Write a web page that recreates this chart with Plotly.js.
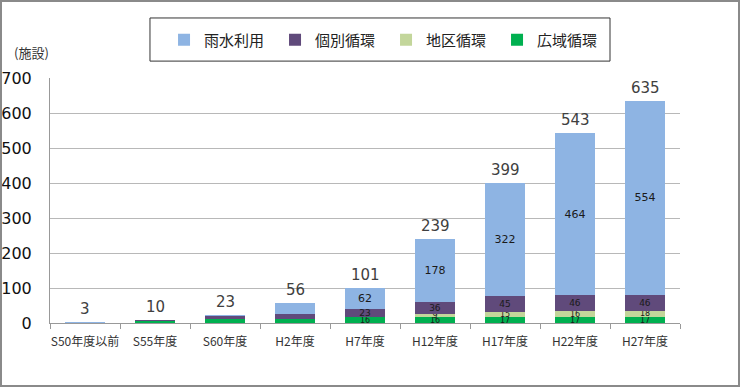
<!DOCTYPE html>
<html><head><meta charset="utf-8">
<script src="https://cdn.plot.ly/plotly-3.0.1.min.js"></script>
<style>
body{margin:0;padding:0;background:#fff;}
#wrap{position:relative;width:740px;height:387px;}
#chart{position:absolute;left:0;top:0;width:740px;height:387px;}
#frame{position:absolute;left:0;top:0;width:740px;height:387px;box-sizing:border-box;border:2px solid #8a8a8a;pointer-events:none;}
</style></head>
<body><div id="wrap"><div id="chart"></div><div id="frame"></div></div>
<script>
const categories = ["S50年度以前","S55年度","S60年度","H2年度","H7年度","H12年度","H17年度","H22年度","H27年度"];
const kouiki = [0, 6, 12, 11, 16, 16, 17, 17, 17];      // 広域循環
const chiku  = [0, 0, 0, 0, 0, 9, 15, 16, 18];          // 地区循環
const kobetsu = [0, 3, 8, 14, 23, 36, 45, 46, 46];      // 個別循環
const usui   = [3, 1, 3, 31, 62, 178, 322, 464, 554];   // 雨水利用
const totals = [3, 10, 23, 56, 101, 239, 399, 543, 635];

const numFont = "'DejaVu Sans', 'Noto Sans CJK JP', sans-serif";
const jpFont = "'Noto Sans CJK JP', sans-serif";

function labels(arr){ return arr.map((v,i)=> (i>=4 && v>0) ? String(v) : ""); }

function barTrace(name, vals, color, fsize){
  return {type:'bar', name:name, x:categories, y:vals,
    marker:{color:color, line:{width:0}},
    text:labels(vals), textposition:'inside', insidetextanchor:'middle',
    constraintext:'none', textangle:0,
    textfont:{family:numFont, size:fsize, color:'#1a1a1a'},
    hoverinfo:'none'};
}

const data = [
  barTrace('広域循環', kouiki, '#00B050', 8),
  barTrace('地区循環', chiku, '#C3D69B', 8),
  barTrace('個別循環', kobetsu, '#604A7B', 9),
  barTrace('雨水利用', usui, '#8EB4E3', 11)
];

const totalAnns = categories.map((c,i)=>({x:c, y:totals[i], xref:'x', yref:'y', text:String(totals[i]),
  showarrow:false, yanchor:'bottom', yshift:2, font:{family:numFont, size:15, color:'#404040'}}));

const layout = {
  width:740, height:387,
  margin:{l:50, r:60, t:78, b:64},
  paper_bgcolor:'#fff', plot_bgcolor:'#fff',
  barmode:'stack', bargap:0.43,
  showlegend:true,
  legend:{orientation:'h', traceorder:'reversed', x:0.181, xanchor:'left', y:1.155, yanchor:'middle',
    borderwidth:0, font:{family:jpFont, size:15, color:'#222'},
    entrywidth:66, bgcolor:'rgba(0,0,0,0)'},
  xaxis:{type:'category', tickson:'boundaries', ticks:'outside', ticklen:5, tickcolor:'#999',
    showline:true, linecolor:'#999', linewidth:1, showgrid:false, tickangle:0, ticklabelstandoff:8,
    tickfont:{family:jpFont, size:12, color:'#333'}, fixedrange:true},
  yaxis:{range:[0,700], dtick:100, showgrid:true, gridcolor:'#b8b8b8', gridwidth:1,
    showline:true, linecolor:'#999', linewidth:1, ticks:'', zeroline:false,
    tickfont:{family:numFont, size:16, color:'#111'}, ticklabelstandoff:14, fixedrange:true},
  shapes:[{type:'rect', xref:'paper', yref:'paper', x0:0.1587, x1:0.8889, y0:1.069, y1:1.245,
    line:{color:'#333', width:1}, fillcolor:'rgba(0,0,0,0)', layer:'below'}],
  annotations:[{xref:'paper', yref:'paper', x:-0.0603, y:1.106, xanchor:'left', yanchor:'middle',
    text:'(施設)', showarrow:false, font:{family:jpFont, size:13, color:'#333'}}].concat(totalAnns)
};
Plotly.newPlot('chart', data, layout, {displayModeBar:false, staticPlot:true});
</script></body></html>
